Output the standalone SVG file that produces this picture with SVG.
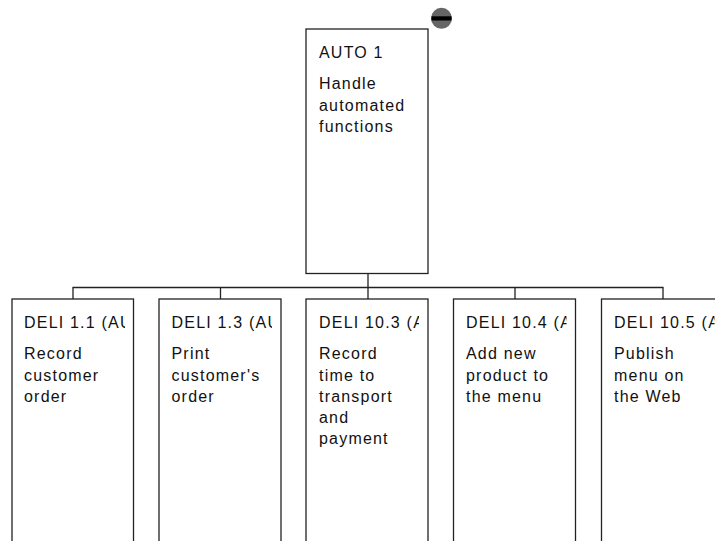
<svg xmlns="http://www.w3.org/2000/svg" width="715" height="541" viewBox="0 0 715 541">
<style>
.box{fill:#fff;stroke:#222;stroke-width:1.3}
.conn{fill:none;stroke:#222;stroke-width:1.3}
text{font-family:"Liberation Sans",Arial,sans-serif;font-size:16px;letter-spacing:1.2px;fill:#111}
</style>
<defs>
<clipPath id="c1"><rect x="12" y="299" width="113" height="240"/></clipPath>
<clipPath id="c2"><rect x="159" y="299" width="113" height="240"/></clipPath>
<clipPath id="c3"><rect x="306" y="299" width="113" height="240"/></clipPath>
<clipPath id="c4"><rect x="453.5" y="299" width="113" height="240"/></clipPath>
<clipPath id="c5"><rect x="601.5" y="299" width="113" height="240"/></clipPath>
</defs>
<rect width="715" height="541" fill="#fff"/>
<g id="connectors">
<path class="conn" d="M368 274V287.5M73 299V287.5H663V299M220.5 287.5V299M368 287.5V299M515 287.5V299"/>
</g>
<g id="auto1">
<rect class="box" x="306" y="29" width="122" height="244.5"/>
<text x="319" y="58.3">AUTO 1</text>
<text x="319" y="89.3">Handle</text>
<text x="319" y="110.5">automated</text>
<text x="319" y="131.7">functions</text>
<g id="collapse">
<circle cx="441.5" cy="18.3" r="10.5" fill="#666"/>
<rect x="431.5" y="16.3" width="20" height="4.2" fill="#000"/>
</g>
</g>
<g id="deli11">
<rect class="box" x="12" y="299" width="121.5" height="260"/>
<text x="24" y="328.3" clip-path="url(#c1)">DELI 1.1 (AUTO)</text>
<text x="24" y="359.3">Record</text>
<text x="24" y="380.5">customer</text>
<text x="24" y="401.7">order</text>
</g>
<g id="deli13">
<rect class="box" x="159" y="299" width="122" height="260"/>
<text x="171.5" y="328.3" clip-path="url(#c2)">DELI 1.3 (AUTO)</text>
<text x="171.5" y="359.3">Print</text>
<text x="171.5" y="380.5">customer's</text>
<text x="171.5" y="401.7">order</text>
</g>
<g id="deli103">
<rect class="box" x="306" y="299" width="122" height="260"/>
<text x="319" y="328.3" clip-path="url(#c3)">DELI 10.3 (AUTO)</text>
<text x="319" y="359.3">Record</text>
<text x="319" y="380.5">time to</text>
<text x="319" y="401.7">transport</text>
<text x="319" y="422.9">and</text>
<text x="319" y="444.1">payment</text>
</g>
<g id="deli104">
<rect class="box" x="453.5" y="299" width="122" height="260"/>
<text x="466" y="328.3" clip-path="url(#c4)">DELI 10.4 (AUTO)</text>
<text x="466" y="359.3">Add new</text>
<text x="466" y="380.5">product to</text>
<text x="466" y="401.7">the menu</text>
</g>
<g id="deli105">
<rect class="box" x="601.5" y="299" width="122" height="260"/>
<text x="614" y="328.3" clip-path="url(#c5)">DELI 10.5 (AUTO)</text>
<text x="614" y="359.3">Publish</text>
<text x="614" y="380.5">menu on</text>
<text x="614" y="401.7">the Web</text>
</g>
</svg>
